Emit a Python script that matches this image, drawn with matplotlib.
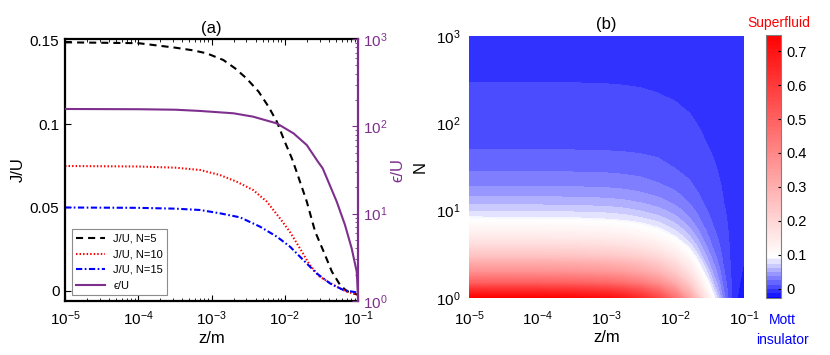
import numpy as np
import matplotlib
matplotlib.use('Agg')
import matplotlib.pyplot as plt
from matplotlib.colors import LinearSegmentedColormap, Normalize
from matplotlib.ticker import LogLocator, NullFormatter, FixedLocator

plt.rcParams['font.family'] = ['Liberation Sans', 'DejaVu Sans']
plt.rcParams['mathtext.fontset'] = 'custom'
plt.rcParams['mathtext.rm'] = 'Liberation Sans'
plt.rcParams['mathtext.it'] = 'Liberation Sans:italic'
plt.rcParams['mathtext.bf'] = 'Liberation Sans:bold'

# ---------------- data: panel (a) ----------------
z_n5 = [1e-5, 1e-4, 3.2e-4, 5.6e-4, 8.6e-4, 1.45e-3, 2.1e-3, 3.0e-3, 4.4e-3, 6.0e-3,
        7.8e-3, 1.0e-2, 1.25e-2, 1.45e-2, 2.0e-2, 2.6e-2, 3.4e-2, 4.4e-2, 5.7e-2,
        7.0e-2, 8.5e-2, 1.0e-1]
j_n5 = [0.1490, 0.1485, 0.1458, 0.1442, 0.1424, 0.1384, 0.1334, 0.1274, 0.1194, 0.1104,
        0.1014, 0.0894, 0.0794, 0.0714, 0.0534, 0.0354, 0.0234, 0.0114, 0.0034,
        -0.0002, -0.0015, -0.0025]

z_n10 = [1e-5, 1e-4, 3.2e-4, 7.0e-4, 1.3e-3, 2.2e-3, 3.7e-3, 5.7e-3, 8.6e-3, 1.17e-2,
         1.61e-2, 2.2e-2, 3.0e-2, 4.6e-2, 7.0e-2, 1e-1]
j_n10 = [0.0748, 0.0745, 0.0738, 0.0724, 0.0694, 0.0654, 0.0604, 0.0534, 0.0434, 0.0354,
         0.0254, 0.0154, 0.0084, 0.0034, -0.0006, -0.0025]

z_n15 = [1e-5, 1e-4, 3.2e-4, 7.0e-4, 1.31e-3, 2.45e-3, 4.6e-3, 7.8e-3, 1.18e-2, 1.79e-2,
         2.72e-2, 4.14e-2, 6.3e-2, 1e-1]
j_n15 = [0.0499, 0.0497, 0.0492, 0.0484, 0.0464, 0.0440, 0.0384, 0.0324, 0.0264, 0.0184,
         0.0104, 0.0044, 0.0004, -0.0012]

z_eps = [1e-5, 1e-4, 3.2e-4, 7.0e-4, 2.0e-3, 3.7e-3, 7.8e-3, 1.32e-2, 2.0e-2, 2.8e-2,
         3.3e-2, 3.94e-2, 5.13e-2, 6.65e-2, 8.2e-2, 9.6e-2, 1e-1]
eps_u = [158, 157, 155, 150, 141, 129, 108, 83, 61, 40,
         33, 23.2, 13.7, 7.4, 4.0, 2.17, 1.15]

legend_labels = ['J/U, N=5', 'J/U, N=10', 'J/U, N=15', '\u03f5/U']

# ---------------- data: panel (b) ----------------
z_grid = [1e-5, 1e-4, 3.2e-4, 1e-3, 1.8e-3, 3.2e-3, 5.6e-3, 1e-2, 1.6e-2, 2.5e-2,
          3.5e-2, 5e-2, 6.3e-2, 8e-2, 1e-1]
N_grid = [1, 1.5, 2, 3, 4, 5, 6, 8, 10, 12, 15, 20, 30, 50, 70, 100, 150, 200, 300, 1000]
V = [
    [0.7474, 0.7452, 0.7362, 0.7137, 0.6837, 0.6349, 0.5637, 0.4512, 0.3274, 0.1849, 0.0987, 0.0312, 0.0034, -0.0124, -0.0270],
    [0.4974, 0.4959, 0.4899, 0.4749, 0.4549, 0.4224, 0.3749, 0.2999, 0.2174, 0.1224, 0.0649, 0.0199, 0.0014, -0.0091, -0.0189],
    [0.3724, 0.3713, 0.3668, 0.3555, 0.3405, 0.3162, 0.2805, 0.2243, 0.1624, 0.0912, 0.0480, 0.0143, 0.0004, -0.0075, -0.0148],
    [0.2474, 0.2467, 0.2437, 0.2362, 0.2262, 0.2099, 0.1862, 0.1487, 0.1074, 0.0599, 0.0312, 0.0087, -0.0006, -0.0059, -0.0107],
    [0.1849, 0.1843, 0.1821, 0.1765, 0.1690, 0.1568, 0.1390, 0.1108, 0.0799, 0.0443, 0.0227, 0.0058, -0.0011, -0.0050, -0.0087],
    [0.1474, 0.1470, 0.1452, 0.1407, 0.1347, 0.1249, 0.1107, 0.0882, 0.0634, 0.0349, 0.0177, 0.0042, -0.0014, -0.0046, -0.0075],
    [0.1224, 0.1220, 0.1205, 0.1168, 0.1118, 0.1037, 0.0918, 0.0730, 0.0524, 0.0287, 0.0143, 0.0030, -0.0016, -0.0042, -0.0067],
    [0.0912, 0.0909, 0.0897, 0.0869, 0.0832, 0.0771, 0.0682, 0.0541, 0.0387, 0.0208, 0.0101, 0.0016, -0.0018, -0.0038, -0.0056],
    [0.0724, 0.0722, 0.0713, 0.0690, 0.0660, 0.0612, 0.0540, 0.0428, 0.0304, 0.0162, 0.0075, 0.0008, -0.0020, -0.0036, -0.0050],
    [0.0599, 0.0597, 0.0590, 0.0571, 0.0546, 0.0505, 0.0446, 0.0352, 0.0249, 0.0130, 0.0058, 0.0002, -0.0021, -0.0034, -0.0046],
    [0.0474, 0.0473, 0.0467, 0.0452, 0.0432, 0.0399, 0.0352, 0.0277, 0.0194, 0.0099, 0.0042, -0.0003, -0.0022, -0.0033, -0.0042],
    [0.0349, 0.0348, 0.0343, 0.0332, 0.0317, 0.0293, 0.0257, 0.0201, 0.0139, 0.0068, 0.0025, -0.0009, -0.0023, -0.0031, -0.0038],
    [0.0224, 0.0223, 0.0220, 0.0213, 0.0203, 0.0187, 0.0163, 0.0125, 0.0084, 0.0037, 0.0008, -0.0015, -0.0024, -0.0029, -0.0034],
    [0.0123, 0.0123, 0.0122, 0.0117, 0.0111, 0.0102, 0.0087, 0.0065, 0.0040, 0.0012, -0.0006, -0.0019, -0.0025, -0.0028, -0.0031],
    [0.0081, 0.0081, 0.0080, 0.0076, 0.0072, 0.0065, 0.0055, 0.0039, 0.0021, 0.0001, -0.0012, -0.0021, -0.0025, -0.0027, -0.0029],
    [0.0049, 0.0049, 0.0048, 0.0046, 0.0043, 0.0038, 0.0031, 0.0019, 0.0007, -0.0007, -0.0016, -0.0023, -0.0025, -0.0027, -0.0028],
    [0.0024, 0.0024, 0.0023, 0.0022, 0.0020, 0.0017, 0.0012, 0.0004, -0.0004, -0.0013, -0.0019, -0.0024, -0.0026, -0.0027, -0.0028],
    [0.0012, 0.0011, 0.0011, 0.0010, 0.0008, 0.0006, 0.0002, -0.0003, -0.0009, -0.0017, -0.0021, -0.0024, -0.0026, -0.0026, -0.0027],
    [-0.0001, -0.0001, -0.0001, -0.0002, -0.0003, -0.0005, -0.0007, -0.0011, -0.0015, -0.0020, -0.0023, -0.0025, -0.0026, -0.0026, -0.0027],
    [-0.0019, -0.0019, -0.0019, -0.0019, -0.0019, -0.0020, -0.0020, -0.0021, -0.0023, -0.0024, -0.0025, -0.0026, -0.0026, -0.0026, -0.0026],
]
cbar_ticks = [0, 0.1, 0.2, 0.3, 0.4, 0.5, 0.6, 0.7]
cbar_ticklabels = ['0', '0.1', '0.2', '0.3', '0.4', '0.5', '0.6', '0.7']
jl_ticks = [0, 0.05, 0.1, 0.15]
jl_ticklabels = ['0', '0.05', '0.1', '0.15']

# ---------------- styling ----------------
PURPLE = (0.494, 0.184, 0.556)
FS = 11

fig = plt.figure(figsize=(8.3, 3.55), dpi=100)
ax = fig.add_axes([65/830, 1-301/355, 293/830, 262/355])
axb = fig.add_axes([469/830, 1-298/355, 275/830, 262/355])
cax = fig.add_axes([766/830, 1-298/355, 15/830, 263/355])

# ---- panel (a)
ax.set_xscale('log')
l1, = ax.plot(z_n5, j_n5, color='black', lw=1.5, ls=(0, (3.4, 2.4)))
l2, = ax.plot(z_n10, j_n10, color='red', lw=1.5, ls=(0, (0.7, 1.0)))
l3, = ax.plot(z_n15, j_n15, color='blue', lw=1.5, ls=(0, (3.0, 1.2, 0.8, 1.2)))
ax.set_xlim(1e-5, 1e-1)
ax.set_ylim(-0.0062, 0.151)
ax.set_yticks(jl_ticks)
ax.set_yticklabels(jl_ticklabels)
ax.xaxis.set_major_locator(LogLocator(base=10, numticks=10))
ax.xaxis.set_minor_locator(LogLocator(base=10, subs=np.arange(2, 10), numticks=100))
ax.xaxis.set_minor_formatter(NullFormatter())
ax.tick_params(axis='both', which='both', direction='in', top=True, labelsize=FS)
ax.tick_params(axis='both', which='major', length=4)
ax.tick_params(axis='both', which='minor', length=2)
ax.tick_params(axis='x', pad=6)
ax.tick_params(axis='y', pad=4)
for s in ['left', 'top', 'bottom']:
    ax.spines[s].set_linewidth(1.6)
ax.spines['right'].set_visible(False)
ax.set_xlabel('z/m', fontsize=FS+1, labelpad=2)
ax.set_ylabel('J/U', fontsize=FS+1, labelpad=3)
ax.set_title('(a)', fontsize=FS+1, pad=4)

ax2 = ax.twinx()
ax2.set_yscale('log')
l4, = ax2.plot(z_eps, eps_u, color=PURPLE, lw=1.5)
ax2.set_ylim(1, 1000)
ax2.set_xlim(1e-5, 1e-1)
for s in ['left', 'top', 'bottom']:
    ax2.spines[s].set_visible(False)
ax2.spines['right'].set_color(PURPLE)
ax2.spines['right'].set_linewidth(1.6)
ax2.yaxis.set_major_locator(LogLocator(base=10, numticks=10))
ax2.yaxis.set_minor_locator(LogLocator(base=10, subs=np.arange(2, 10), numticks=100))
ax2.yaxis.set_minor_formatter(NullFormatter())
ax2.tick_params(axis='y', which='both', direction='in', colors=PURPLE, labelsize=FS)
ax2.tick_params(axis='y', which='major', length=4)
ax2.tick_params(axis='y', which='minor', length=2)
ax2.set_ylabel('\u03f5/U', color=PURPLE, fontsize=FS+1, labelpad=2)

leg = ax2.legend([l1, l2, l3, l4], legend_labels, loc='lower left',
                 bbox_to_anchor=(0.024, 0.023), borderaxespad=0, fontsize=8,
                 frameon=True, fancybox=False, framealpha=1, edgecolor='0.55',
                 handlelength=2.6, handletextpad=0.7, labelspacing=0.5,
                 borderpad=0.4)
leg.get_frame().set_linewidth(0.8)

# ---- panel (b)
vmin_c, vmax_c = -0.031, 0.75
white_pos = (0.093 - vmin_c) / (vmax_c - vmin_c)
cmap = LinearSegmentedColormap.from_list(
    'mott_sf', [(0.0, (0, 0, 1)), (white_pos, (1, 1, 1)), (1.0, (1, 0, 0))])
norm = Normalize(vmin=vmin_c, vmax=vmax_c)
levels = [-0.0372, -0.0248, -0.0124, 0.0, 0.0124, 0.0248, 0.0372, 0.0496,
          0.0620, 0.0744, 0.0868] + list(np.linspace(0.0868, 0.75, 166)[1:])

axb.set_xscale('log')
axb.set_yscale('log')
Varr = np.array(V)
cs = axb.contourf(z_grid, N_grid, Varr, levels=levels, cmap=cmap, norm=norm)
axb.set_xlim(1e-5, 1e-1)
axb.set_ylim(1, 1000)
for s in axb.spines.values():
    s.set_visible(False)
axb.xaxis.set_major_locator(LogLocator(base=10, numticks=10))
axb.yaxis.set_major_locator(LogLocator(base=10, numticks=10))
axb.xaxis.set_minor_locator(FixedLocator([]))
axb.yaxis.set_minor_locator(FixedLocator([]))
axb.tick_params(axis='both', which='both', length=0, labelsize=FS)
axb.tick_params(axis='x', pad=8)
axb.tick_params(axis='y', pad=6)
axb.set_xlabel('z/m', fontsize=FS+1, labelpad=2)
axb.set_ylabel('N', fontsize=FS+1, labelpad=6)
axb.set_title('(b)', fontsize=FS+1, pad=5)

cb = fig.colorbar(cs, cax=cax, ticks=cbar_ticks, spacing='proportional')
cb.ax.set_yticklabels(cbar_ticklabels)
cax.set_ylim(Varr.min(), Varr.max())
cb.outline.set_edgecolor('0.5')
cb.outline.set_linewidth(0.8)
cax.tick_params(axis='y', which='both', direction='in', length=2.5, labelsize=FS-0.5, pad=4)
cax.minorticks_off()

fig.text(779/830, 1-23/355, 'Superfluid', color='red', fontsize=10, ha='center', va='center')
fig.text(782/830, 1-320/355, 'Mott', color='blue', fontsize=10, ha='center', va='center')
fig.text(782/830, 1-340/355, 'insulator', color='blue', fontsize=10, ha='center', va='center')

fig.savefig('out.png', dpi=100)
